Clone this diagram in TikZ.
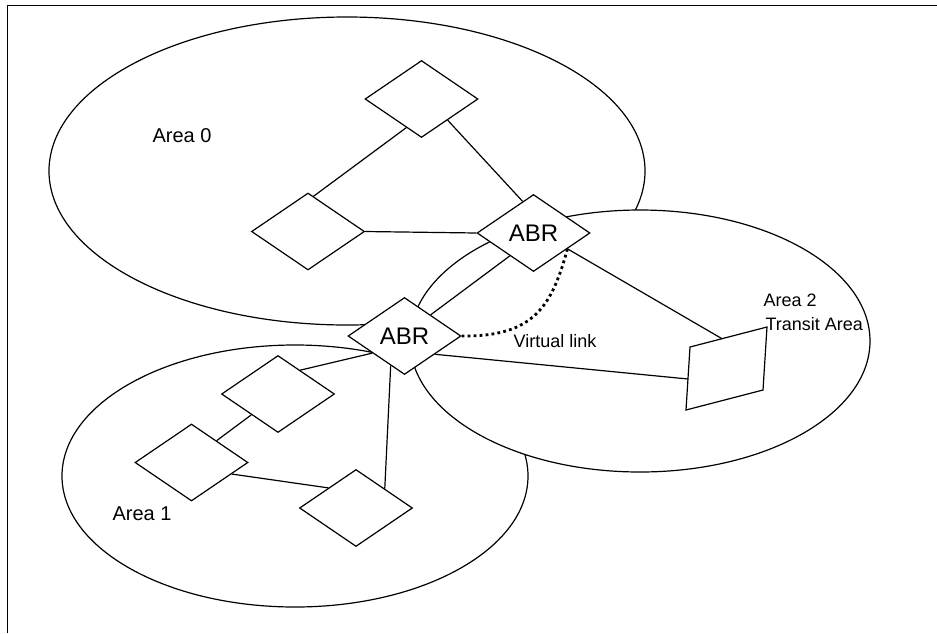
\documentclass[tikz,border=0pt]{standalone}
\usepackage{fontspec}
\setmainfont{Liberation Sans}
\usetikzlibrary{shapes.geometric}
\begin{document}
\begin{tikzpicture}[x=0.5pt,y=-0.5pt,
  line width=0.6pt,
  rtr/.style={diamond, draw, fill=white, inner sep=0pt, minimum width=56.5pt, minimum height=38.5pt, font=\fontsize{12}{14}\selectfont},
  lbl/.style={font=\fontsize{10}{12}\selectfont, anchor=base west, inner sep=0pt},
  slbl/.style={font=\fontsize{9}{11}\selectfont, anchor=base west, inner sep=0pt},
  vlink/.style={line width=1.4pt, dash pattern=on 1.4pt off 1.6pt}
]
\useasboundingbox (0,0) rectangle (937,633);
% frame
\draw[line width=0.5pt] (7,633) -- (7,5) -- (937,5);
% areas (area 2 lies on top of the others)
\draw (347,171) ellipse [x radius=149pt, y radius=77pt];
\draw (295,476) ellipse [x radius=116.5pt, y radius=65.5pt];
\filldraw[fill=white] (640,341) ellipse [x radius=115pt, y radius=65.5pt];
% routers
\node[rtr] (top) at (421.5,99) {};
\node[rtr] (left0) at (308,231.5) {};
\node[rtr] (abru) at (533.5,233) {ABR};
\node[rtr] (abrl) at (404.5,336) {ABR};
\node[rtr] (a1) at (278,394) {};
\node[rtr] (b1) at (191.5,462.5) {};
\node[rtr] (c1) at (356,508) {};
% parallelogram router in area 2
\coordinate (p1) at (690,347);
\coordinate (p2) at (767,327);
\coordinate (p3) at (763,390);
\coordinate (p4) at (686,410);
\filldraw[fill=white] (p1) -- (p2) -- (p3) -- (p4) -- cycle;
\coordinate (ptop) at (722,338.7);
\coordinate (pleft) at (688,379);
% links
\draw (top.242) -- (left0.81);
\draw (top.321.6) -- (abru.109.2);
\draw (left0.east) -- (abru.west);
\draw (abru.335) -- (ptop);
\draw (abru.224.4) -- (abrl.39.7);
\draw (abrl.329.7) -- (pleft);
\draw (a1.47.2) -- (abrl.208.4);
\draw (abrl.245) -- (c1.34.6);
\draw (a1.218.2) -- (b1.41.4);
\draw (b1.344.1) -- (c1.144.5);
\draw[vlink] (abrl.east) .. controls (535,337) and (552,305) .. (abru.335);
% labels
\node[lbl] (l0) at (152,142) {Area 0};
\node[lbl] (l1) at (112,520) {Area 1};
\node[slbl] (l2) at (763,306) {Area 2};
\node[slbl] (l2b) at (765,330) {Transit Area};
\node[slbl] (lv) at (513,347) {Virtual link};
\end{tikzpicture}
\end{document}
